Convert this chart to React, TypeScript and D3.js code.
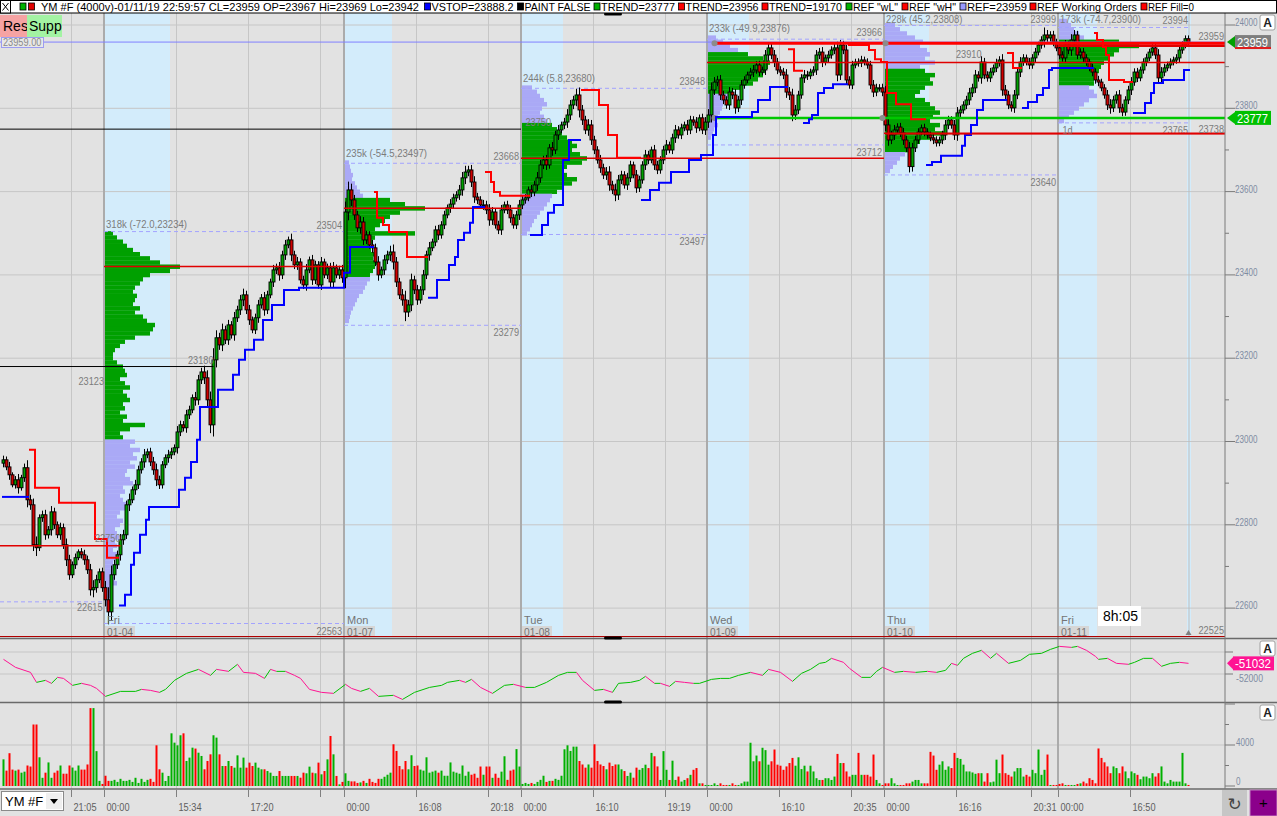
import React, { useEffect } from "react";
import * as d3 from "d3";

// ---------------- DATA ----------------
const openFirst = 22948;
const closes = [
  22956, 22939, 22920, 22896, 22908, 22889, 22913, 22937, 22860, 22848,
  22752, 22745, 22817, 22824, 22776, 22788, 22831, 22800, 22776, 22793,
  22752, 22716, 22680, 22704, 22721, 22735, 22728, 22716, 22692, 22644,
  22649, 22668, 22687, 22649, 22620, 22591, 22680, 22704, 22728, 22764,
  22776, 22848, 22860, 22884, 22896, 22932, 22951, 22968, 22975, 22951,
  22932, 22908, 22896, 22944, 22961, 22968, 22975, 22985, 23023, 23040,
  23033, 23064, 23076, 23105, 23100, 23148, 23167, 23153, 23100, 23040,
  23196, 23249, 23232, 23268, 23244, 23280, 23256, 23297, 23316, 23340,
  23352, 23316, 23292, 23268, 23297, 23328, 23345, 23316, 23352, 23383,
  23412, 23417, 23400, 23448, 23472, 23484, 23448, 23424, 23431, 23388,
  23376, 23412, 23436, 23388, 23424, 23376, 23431, 23400, 23417, 23383,
  23417, 23400, 23412, 23393, 23551, 23604, 23580, 23544, 23513, 23527,
  23484, 23496, 23472, 23465, 23431, 23400, 23412, 23436, 23448, 23455,
  23431, 23383, 23352, 23340, 23311, 23328, 23388, 23364, 23340, 23364,
  23400, 23448, 23465, 23479, 23508, 23496, 23520, 23544, 23561, 23570,
  23585, 23592, 23604, 23633, 23647, 23652, 23623, 23587, 23580, 23568,
  23568, 23556, 23532, 23551, 23520, 23508, 23556, 23568, 23556, 23537,
  23520, 23544, 23568, 23580, 23585, 23604, 23599, 23616, 23633, 23664,
  23676, 23664, 23705, 23700, 23736, 23748, 23760, 23767, 23784, 23808,
  23820, 23832, 23796, 23772, 23748, 23760, 23724, 23700, 23676, 23657,
  23640, 23647, 23616, 23604, 23592, 23628, 23640, 23616, 23633, 23664,
  23640, 23609, 23628, 23664, 23688, 23676, 23700, 23664, 23652, 23676,
  23700, 23712, 23700, 23729, 23748, 23736, 23753, 23760, 23748, 23772,
  23767, 23753, 23777, 23748, 23767, 23784, 23844, 23863, 23868, 23832,
  23820, 23808, 23839, 23832, 23801, 23820, 23856, 23868, 23880, 23887,
  23892, 23904, 23887, 23892, 23928, 23945, 23928, 23911, 23892, 23887,
  23880, 23839, 23832, 23784, 23796, 23832, 23873, 23880, 23878, 23887,
  23892, 23928, 23935, 23911, 23921, 23928, 23940, 23945, 23880, 23952,
  23940, 23868, 23856, 23904, 23911, 23909, 23916, 23911, 23904, 23856,
  23839, 23849, 23849, 23839, 23760, 23724, 23736, 23748, 23755, 23741,
  23724, 23705, 23660, 23705, 23724, 23743, 23753, 23743, 23736, 23729,
  23724, 23717, 23724, 23736, 23760, 23772, 23760, 23736, 23789, 23796,
  23808, 23820, 23837, 23849, 23880, 23873, 23911, 23880, 23873, 23887,
  23897, 23909, 23916, 23844, 23832, 23808, 23801, 23832, 23887, 23911,
  23921, 23911, 23904, 23921, 23935, 23952, 23964, 23976, 23969, 23976,
  23959, 23945, 23928, 23921, 23952, 23940, 23964, 23976, 23928, 23935,
  23921, 23911, 23897, 23887, 23868, 23863, 23849, 23832, 23808, 23801,
  23820, 23832, 23801, 23791, 23820, 23844, 23863, 23887, 23873, 23892,
  23911, 23921, 23935, 23945, 23928, 23873, 23887, 23897, 23904, 23911,
  23916, 23921, 23940, 23952, 23967, 23959,
];

const wicks = [
  10, 8, 12, 6, 9, 14, 7, 10, 18, 12, 15, 20, 8, 10, 12, 9, 14, 10, 8, 12,
  10, 15, 12, 8, 10, 6, 9, 12, 10, 14, 18, 12, 8, 10, 16, 30, 22, 12, 10, 14,
  12, 10, 15, 8, 12, 10, 9, 14, 8, 10, 12, 15, 10, 9, 8, 12, 10, 8, 14, 10,
  9, 12, 10, 8, 14, 12, 10, 15, 18, 20, 28, 18, 12, 15, 10, 12, 9, 14, 10, 12,
  15, 10, 12, 8, 10, 12, 9, 14, 10, 8, 12, 10, 14, 10, 12, 8, 15, 10, 12, 9,
  10, 14, 8, 12, 10, 9, 12, 8, 10, 12, 14, 8, 10, 12, 25, 20, 15, 12, 10, 14,
  12, 10, 9, 12, 10, 14, 8, 12, 10, 15, 18, 12, 10, 14, 22, 12, 15, 10, 12, 9,
  12, 10, 14, 8, 10, 12, 9, 10, 8, 12, 10, 9, 12, 14, 15, 10, 12, 14, 10, 9,
  12, 10, 14, 12, 9, 10, 12, 8, 10, 12, 9, 10, 12, 10, 9, 8, 12, 10, 14, 12,
  10, 12, 9, 14, 10, 12, 8, 10, 14, 12, 10, 15, 18, 12, 10, 14, 12, 10, 9, 12,
  10, 12, 14, 10, 15, 12, 10, 9, 12, 10, 8, 12, 10, 9, 12, 10, 8, 12, 10, 9,
  10, 12, 8, 10, 12, 9, 10, 8, 12, 10, 9, 12, 8, 10, 12, 14, 18, 12, 10, 12,
  10, 9, 12, 10, 14, 10, 12, 9, 8, 10, 12, 9, 10, 8, 12, 14, 10, 12, 10, 9,
  10, 14, 12, 15, 12, 10, 9, 12, 10, 8, 9, 12, 10, 12, 8, 10, 9, 10, 15, 12,
  10, 12, 9, 10, 8, 9, 10, 8, 9, 10, 12, 10, 9, 10, 15, 14, 10, 12, 9, 10,
  12, 10, 14, 12, 10, 9, 8, 10, 9, 8, 10, 9, 8, 10, 12, 10, 9, 12, 14, 10,
  9, 10, 12, 10, 12, 9, 14, 10, 9, 10, 8, 10, 9, 14, 12, 10, 9, 12, 10, 12,
  9, 8, 10, 9, 10, 8, 9, 18, 12, 9, 10, 8, 10, 9, 12, 10, 14, 12, 10, 9,
  10, 9, 8, 10, 9, 10, 8, 9, 12, 14, 10, 9, 12, 10, 9, 10, 12, 9, 10, 8,
  9, 10, 8, 9, 10, 14, 12, 10, 8, 9, 8, 9, 10, 9, 8, 8,
];

const volumes = [
  2600, 1500, 3200, 1600, 1500, 1600, 1300, 1400, 2000, 1900,
  6000, 6000, 2800, 800, 1300, 2300, 800, 1300, 1500, 2000,
  1200, 1200, 2000, 1800, 1500, 2000, 1600, 1600, 2100, 7600,
  7600, 3400, 500, 200,
  1000, 500, 500, 600, 400, 700, 500, 500, 600, 400, 800, 300, 700, 400, 600, 700, 400,
  3970, 1630, 1300, 490, 980, 5140, 4230,
  3970, 4950, 5140, 2440, 2770, 3740, 3650, 3250, 2930, 1630,
  2440, 3090, 4950, 4720, 3090, 1950, 1950, 2440, 1950, 1790,
  2990, 1790, 2770, 1790, 2280, 1950, 2280, 1790, 1630, 1630,
  1460, 1300, 980, 980, 1460, 980, 980, 980, 980, 980,
  980, 810, 1300, 1240, 1890, 1300, 1240, 2280, 1140, 1460,
  2600, 4880, 3090, 980, 160, 400, 1240,
  500, 450, 450, 300, 350, 500, 300, 700, 400, 300, 700, 700, 900, 1100, 1300,
  4070, 3420, 1950, 1630, 2440, 1630, 3000, 1950,
  2000, 1600, 1500, 2800, 1300, 1400, 1500, 1300, 1500, 1000,
  1000, 2300, 1400, 1300, 1200, 2000, 1000, 1400, 1100, 1200,
  800, 1900, 1100, 1900, 1900, 800, 1200, 800, 1400, 2900,
  600, 1500, 1600, 3600, 1900,
  200, 300, 200, 300, 200, 400, 600, 1000, 400, 500, 500, 700, 600, 1000,
  3580, 3970, 3420, 3840, 3840, 2440, 2100, 1790, 2100, 1790,
  4070, 2440, 2100, 1950, 1630, 2280, 1950, 2100, 2100, 1630,
  1460, 980, 1300, 810, 1790,
  1580, 1750, 2080, 1750, 3230, 2900, 1910, 590, 3400, 1580,
  590, 2470, 590, 920, 430, 590, 760, 1090, 1580, 1750,
  260, 260, 100, 100, 100, 260, 100, 260, 100, 100,
  100, 260, 100, 100, 260, 430, 430, 4220, 2410, 2970,
  2410, 3730, 3500, 2080, 2410, 3560, 2080, 1980, 1580, 1910,
  2240, 2740, 1980, 2800, 1650, 1980, 1420, 1980, 1420, 760,
  590, 590, 760, 760, 590, 920, 3130, 2240, 2240, 1420,
  920, 1090, 1090, 3230, 1090, 1090, 1090, 920, 3070, 590,
  260, 100, 260, 260, 760, 260, 100, 100, 100, 260,
  260, 430, 590, 590, 260, 260, 260, 3330, 2970, 1580,
  2080, 2410, 1580, 1910, 1750, 3230, 2740, 2640, 2080, 1420,
  1420, 1320, 1190, 1250, 1250, 430, 1250, 360, 430, 2570,
  1250, 3070, 1250, 1090, 920, 1420, 1750, 1750, 920, 1090,
  920, 1580, 1250, 3560, 1090, 1580, 3070, 100, 100, 100,
  200, 260, 100, 100, 100, 100, 200, 260, 430, 260,
  760, 590, 260, 3660, 2740, 2310, 1910, 1250, 1910, 1750,
  1250, 1910, 1420, 760, 1420, 1250, 1090, 660, 920, 920,
  760, 1250, 920, 1250, 1910, 430, 260, 590, 430, 430,
  430, 3230, 260, 100,
];

// cumulative delta (indicator pane)
const deltaBar = [
  0, 4, 9, 11, 14, 16, 18, 20, 23, 26,
  29, 31, 34, 39, 44, 46, 49, 52, 54, 57,
  61, 65, 69, 71, 75, 78, 80, 84, 87, 89,
  91, 94, 97, 99, 102, 106, 110, 114, 116, 119,
  122, 125, 130, 133, 137, 142, 146, 148, 152, 154,
  156, 159, 163, 167, 170, 174, 177, 181, 185, 188,
  191, 193, 197, 200, 203, 205, 209, 212, 214, 217,
  219, 222, 224, 227, 230, 232, 236, 239, 242, 245,
  249, 253, 255, 259, 263, 266, 269, 272, 274, 276,
  280, 282, 286, 289, 291, 293, 297, 300, 304, 308,
  311, 314, 316, 318, 320, 323, 326, 329, 331, 335,
  339, 342, 346, 349, 352, 356, 358, 361, 364, 365,
  368, 371, 375, 377, 380, 383, 386, 389, 392, 395,
];
const deltaVal = [
  -50668, -51396, -51851, -52761, -52579, -52850, -52306, -52400, -53034, -52850,
  -53034, -53307, -54035, -53580, -53580, -53400, -53490, -53670, -53400, -52579,
  -51942, -51580, -52124, -51580, -51760, -51120, -51851, -51942, -52400, -51580,
  -51760, -51760, -52124, -52400, -53400, -53670, -53760, -52940, -53307, -53580,
  -53307, -54035, -53940, -54310, -53670, -53220, -53034, -52760, -52579, -52760,
  -52490, -53220, -53760, -53034, -52940, -53220, -53220, -52760, -52124, -51851,
  -51851, -52579, -53490, -53400, -53670, -52850, -52760, -52579, -52215, -52850,
  -52850, -53124, -52670, -52760, -52850, -52850, -52490, -52400, -52400, -52124,
  -51851, -52124, -51580, -51851, -52670, -51942, -51580, -51032, -50940, -50577,
  -50940, -51487, -52306, -52306, -51760, -51396, -51851, -51760, -51851, -51760,
  -51851, -51670, -51032, -51214, -50577, -50120, -49850, -50577, -50120, -51032,
  -50760, -50210, -50120, -49760, -49490, -49580, -49490, -49850, -50400, -50668,
  -50577, -51032, -51120, -50940, -50577, -50577, -51300, -51032, -50940, -51032,
];

// VSTOP / TREND step line: start bar, level, side (b = support/blue, r = resistance/red)
const stopStart = [
  0, 9, 11, 19, 31, 35, 39, 41, 43, 44, 46, 48, 49, 59, 61, 63, 65, 66, 72, 77,
  79, 81, 84, 87, 90, 94, 99, 114, 116, 124, 125, 127, 129, 135, 142, 145, 149, 151, 152, 154,
  156, 157, 161, 163, 164, 166, 176, 180, 182, 184, 187, 189, 193, 199, 202, 205, 213, 216, 219, 223,
  229, 233, 237, 238, 250, 252, 256, 262, 264, 267, 269, 270, 272, 274, 277, 282, 289, 291, 293, 295,
  298, 303, 308, 310, 313, 320, 321, 323, 325, 327, 335, 337, 340, 342, 345, 347, 349, 350, 364, 365,
  367, 368, 369, 374, 377, 381, 383, 384, 387, 394,
];
const stopPrice = [
  22867, 22980, 22889, 22853, 22766, 22721, 22606, 22632, 22704, 22733, 22776, 22812, 22843, 22884, 22913, 22951, 23004, 23083, 23124, 23160,
  23196, 23220, 23244, 23292, 23328, 23364, 23369, 23405, 23467, 23599, 23537, 23520, 23503, 23443, 23345, 23388, 23424, 23443, 23484, 23501,
  23525, 23563, 23647, 23623, 23599, 23590, 23496, 23520, 23549, 23568, 23676, 23724, 23844, 23808, 23736, 23681, 23580, 23604, 23621, 23647,
  23676, 23688, 23736, 23779, 23791, 23820, 23851, 23942, 23890, 23765, 23774, 23784, 23837, 23849, 23858, 23952, 23940, 23918, 23911, 23837,
  23810, 23774, 23664, 23671, 23686, 23710, 23736, 23760, 23796, 23820, 23933, 23897, 23801, 23815, 23832, 23849, 23892, 23897, 23981, 23964,
  23947, 23928, 23868, 23863, 23789, 23813, 23837, 23861, 23868, 23892,
];
const stopSides = [
  "b", "rrrrr", "bbbbbbbbbbbbbbbbbbbbbbb", "rrrrr", "bbbbbbbb", "rrrr", "bbbbbb", "rrrr",
  "bbbbbbbbbbb", "rr", "bbbbbb", "rrrrrrr", "bbbbbbbb", "rr", "bbbbbb", "rrrrrr", "bbbbbb",
].join("").split("");

// sessions
const sessionStart = [34, 114, 173, 235, 294, 352];
const sessionRth = [56, 130, 187, 249, 309, 365];
const sessionEnd = [114, 173, 235, 294, 352, 395];
const sessionDay = ["Fri", "Mon", "Tue", "Wed", "Thu", "Fri"];
const sessionDate = ["01-04", "01-07", "01-08", "01-09", "01-10", "01-11"];
const sessionHigh = [23504, 23668, 23848, 23966, 23999, 23994];
const sessionLow = [22563, 23279, 23497, 23712, 23640, 23765];

// volume profiles (10-point rows from the top price down)
const profile1 = [
  8, 12, 18, 22, 28, 35, 45, 55, 75, 65, 45, 38, 35, 30, 28, 32, 30, 28, 35, 30,
  38, 42, 50, 48, 45, 30, 20, 15, 10, 8, 8, 12, 18, 20, 22, 15, 20, 25, 18, 22,
  25, 18, 20, 15, 22, 18, 40, 25, 15, 18, 30, 25, 35, 28, 32, 25, 30, 22, 20, 25,
  28, 18, 20, 15, 18, 22, 20, 15, 12, 18, 15, 10, 12, 14, 10, 12, 8, 12, 10, 8,
  12, 10, 8, 10, 12, 8, 6, 5, 4, 3,
];
const profile2 = [
  4, 5, 6, 8, 7, 10, 12, 15, 18, 45, 60, 80, 55, 45, 40, 35, 30, 70, 30, 28,
  25, 26, 30, 28, 32, 30, 28, 25, 25, 22, 20, 18, 14, 12, 10, 8, 6, 5, 4,
];
const profile3 = [
  10, 15, 18, 22, 25, 20, 18, 22, 25, 30, 35, 40, 45, 50, 55, 50, 58, 65, 60, 45,
  40, 45, 55, 50, 40, 35, 30, 28, 25, 22, 18, 15, 12, 10, 8, 5,
];
const profile4 = [
  8, 15, 22, 30, 40, 55, 62, 60, 58, 55, 50, 45, 35, 25, 20, 18, 15, 14, 12, 10,
  8, 10, 6, 5, 3,
];
const profile5 = [
  10, 15, 22, 30, 38, 35, 42, 45, 40, 50, 35, 40, 50, 45, 48, 40, 35, 30, 40, 45,
  50, 55, 48, 45, 55, 50, 60, 45, 35, 30, 25, 20, 15, 12, 8, 5,
];
const profile6 = [
  8, 12, 15, 20, 25, 60, 80, 60, 55, 50, 45, 42, 40, 38, 35, 35, 30, 35, 38, 30,
  25, 20, 15, 10, 5,
];
const profTop = [23500, 23670, 23850, 23970, 24000, 24010];
const profVaHigh = [23500, 23580, 23760, 23930, 23890, 23960];
const profVaLow = [23010, 23400, 23600, 23840, 23700, 23860];
const profLabel = [
  "318k (-72.0,23234)",
  "235k (-54.5,23497)",
  "244k (5.8,23680)",
  "233k (-49.9,23876)",
  "228k (45.2,23808)",
  "173k (-74.7,23900)",
];
const pocEndBar = [114, 173, 294, 999, 999, 999];

// time axis
const timeTickBar = [23, 34, 58, 82, 106, 114, 138, 162, 173, 197, 221, 235, 259, 283, 294, 318, 343, 352, 376];
const timeTickLabel = ["21:05", "00:00", "15:34", "17:20", "", "00:00", "16:08", "20:18", "00:00", "16:10", "19:19", "00:00", "16:10", "20:35", "00:00", "16:16", "20:31", "00:00", "16:50"];

const priceTicks = [22600, 22700, 22800, 22900, 23000, 23100, 23200, 23300, 23400, 23500, 23600, 23700, 23800, 23900, 24000];

// ---------------- LAYOUT ----------------
const W = 1277;
const H = 816;
const AX = 1225;
const MAIN_TOP = 13;
const MAIN_BOT = 637;
const IND_TOP = 639;
const IND_BOT = 702;
const VOL_TOP = 703;
const VOL_BOT = 789;
const FONT = "Liberation Sans, Arial, sans-serif";
const GRID = "#c6c6c6";
const LBL = "#7c7c7c";

// narrow small label (price tags on the chart)
function Lbl(props: { x: number; y: number; t: string | number; anchor?: string; fill?: string; size?: number; per?: number }) {
  const t = String(props.t);
  return (
    <text
      x={props.x}
      y={props.y}
      fontSize={props.size ?? 11}
      fill={props.fill ?? LBL}
      textAnchor={props.anchor ?? "start"}
      textLength={t.length * (props.per ?? 5.1)}
      lengthAdjust="spacingAndGlyphs"
    >
      {t}
    </text>
  );
}

export default function App() {
  useEffect(() => {
    document.body.style.margin = "0";
    document.body.style.overflow = "hidden";
  }, []);

  const x = d3.scaleLinear().domain([0, 395]).range([3.5, 1188.5]);
  const y = d3.scaleLinear().domain([22600, 24000]).range([608.1, 25]);
  const yd = d3.scaleLinear().domain([-52000, -50000]).range([674, 652]);
  const yv = d3.scaleLinear().domain([0, 4000]).range([786, 745]);
  const wScale = d3.scaleLinear().domain([0, 100]).range([0, 100]);
  const edge = (b: number) => Math.min(AX, x(b) - 1.5);

  const bars = closes.map((c, i) => {
    const o = i === 0 ? openFirst : closes[i - 1];
    const w = wicks[i] ?? 10;
    return { i, o, c, h: Math.max(o, c) + w, l: Math.min(o, c) - w, up: c >= o };
  });

  const profiles = [profile1, profile2, profile3, profile4, profile5, profile6];

  // step line runs
  const segs = stopStart.map((s, i) => ({
    s,
    e: i < stopStart.length - 1 ? stopStart[i + 1] : 395.5,
    p: stopPrice[i],
    side: stopSides[i] || "b",
  }));
  const runs: { side: string; d: string }[] = [];
  segs.forEach((sg, i) => {
    const x0 = x(sg.s) - 1.5;
    const x1 = sg.e >= 395.5 ? x(395) + 1.5 : x(sg.e) - 1.5;
    const yy = y(sg.p);
    if (i > 0 && segs[i - 1].side === sg.side) {
      runs[runs.length - 1].d += ` V${yy} H${x1}`;
    } else {
      runs.push({ side: sg.side, d: `M${x0},${yy} H${x1}` });
    }
  });

  const legend = [
    { c: "#0000ff", t: "VSTOP=23888.2", x: 424.5, w: 82 },
    { c: "#000000", t: "PAINT FALSE", x: 517.5, w: 66 },
    { c: "#00b000", t: "TREND=23777", x: 594, w: 74 },
    { c: "#ff0000", t: "TREND=23956", x: 678.6, w: 73 },
    { c: "#ff0000", t: "TREND=19170", x: 762, w: 73 },
    { c: "#00b000", t: 'REF "wL"', x: 846, w: 45 },
    { c: "#ff0000", t: 'REF "wH"', x: 902, w: 47 },
    { c: "#9999ff", t: "REF=23959", x: 960, w: 60 },
    { c: "#ff0000", t: "REF Working Orders", x: 1030, w: 100 },
    { c: "#ff0000", t: "REF Fill=0", x: 1141, w: 46 },
  ];

  const sessX = (b: number) => x(b) - 1.5;

  return (
    <svg width={W} height={H} style={{ position: "absolute", left: 0, top: 0, display: "block" }} fontFamily={FONT}>
      <defs>
        <clipPath id="mainClip">
          <rect x={0} y={MAIN_TOP} width={AX} height={MAIN_BOT - MAIN_TOP} />
        </clipPath>
        <clipPath id="indClip">
          <rect x={0} y={IND_TOP} width={AX} height={IND_BOT - IND_TOP} />
        </clipPath>
        <clipPath id="volClip">
          <rect x={0} y={VOL_TOP} width={AX} height={VOL_BOT - VOL_TOP} />
        </clipPath>
      </defs>
      <rect x={0} y={0} width={W} height={H} fill="#e2e2e2" />

      {/* session highlight (overnight) */}
      <g clipPath="url(#mainClip)">
        {sessionStart.map((s, i) => (
          <rect key={i} x={sessX(s)} y={MAIN_TOP} width={sessX(sessionRth[i]) - sessX(s)} height={MAIN_BOT - MAIN_TOP} fill="#d3ecfb" />
        ))}
        <rect x={x(395) - 1.5} y={MAIN_TOP} width={4} height={MAIN_BOT - MAIN_TOP} fill="#d3ecfb" />
        {priceTicks.filter((p) => p % 200 === 0).map((p) => (
          <line key={p} x1={0} x2={AX} y1={y(p)} y2={y(p)} stroke={GRID} />
        ))}
      </g>

      {/* vertical grid across panes */}
      {timeTickBar.map((b, i) =>
        sessionStart.includes(b) ? null : (
          <line key={i} x1={x(b) - 1} x2={x(b) - 1} y1={MAIN_TOP} y2={VOL_BOT} stroke={GRID} />
        )
      )}
      <line x1={0} x2={AX} y1={yd(-50000)} y2={yd(-50000)} stroke={GRID} />
      <line x1={0} x2={AX} y1={yd(-52000)} y2={yd(-52000)} stroke={GRID} />
      <line x1={0} x2={AX} y1={yv(4000)} y2={yv(4000)} stroke={GRID} />
      {sessionStart.map((s, i) => (
        <line key={i} x1={sessX(s)} x2={sessX(s)} y1={MAIN_TOP} y2={VOL_BOT} stroke="#ababab" strokeWidth={2} />
      ))}
      <line x1={x(395) + 0.5} x2={x(395) + 0.5} y1={MAIN_TOP} y2={MAIN_BOT} stroke="#bdbdbd" strokeWidth={1} />

      <g clipPath="url(#mainClip)">
        {/* volume profiles */}
        {profiles.map((prof, pi) => {
          const sx = sessX(sessionStart[pi]) + 1;
          return (
            <g key={pi}>
              {prof.map((v, k) => {
                const p = profTop[pi] - 10 * k;
                const inVa = p <= profVaHigh[pi] && p >= profVaLow[pi];
                const y0 = y(p + 5);
                const y1 = y(p - 5);
                return (
                  <rect key={k} x={sx} y={y0} width={wScale(v)} height={y1 - y0 + 0.3} fill={inVa ? "#00a000" : "#aaa9f6"} />
                );
              })}
              <Lbl x={sx + 1} y={Math.max(23, y(profTop[pi] + 5) - 3)} t={profLabel[pi]} per={4.5} />
            </g>
          );
        })}

        {/* session high / low dashed lines */}
        {sessionStart.map((s, i) => {
          const x0 = sessX(s);
          const x1 = i === sessionStart.length - 1 ? x(395) + 1.5 : sessX(sessionEnd[i]);
          return (
            <g key={i}>
              <line x1={x0} x2={x1} y1={y(sessionHigh[i])} y2={y(sessionHigh[i])} stroke="#a3a3ff" strokeDasharray="4,3" />
              <line x1={x0} x2={x1} y1={y(sessionLow[i])} y2={y(sessionLow[i])} stroke="#a3a3ff" strokeDasharray="4,3" />
              <Lbl x={x1 - 2} y={Math.max(23, y(sessionHigh[i]) - 3)} t={sessionHigh[i]} anchor="end" />
              <Lbl x={x1 - 2} y={y(sessionLow[i]) + 11} t={sessionLow[i]} anchor="end" />
            </g>
          );
        })}
        <line x1={0} x2={sessX(34)} y1={y(22615)} y2={y(22615)} stroke="#a3a3ff" strokeDasharray="4,3" />

        {/* candles */}
        {bars.map((b) => {
          const cx = x(b.i);
          const top = y(Math.max(b.o, b.c));
          const bot = y(Math.min(b.o, b.c));
          return (
            <g key={b.i}>
              <line x1={cx} x2={cx} y1={y(b.h)} y2={y(b.l)} stroke="#000" strokeWidth={1} />
              <rect x={cx - 1.5} y={top} width={3} height={Math.max(1, bot - top)} fill={b.up ? "#00a000" : "#d00000"} stroke="#000" strokeWidth={0.9} />
            </g>
          );
        })}

        {/* reference lines */}
        <line x1={0} x2={AX} y1={y(23959)} y2={y(23959)} stroke="#8080ff" strokeWidth={1} />
        <line x1={0} x2={sessX(173)} y1={y(23750)} y2={y(23750)} stroke="#000" strokeWidth={1} />
        <line x1={0} x2={x(70)} y1={y(23180)} y2={y(23180)} stroke="#000" strokeWidth={1} />
        <line x1={0} x2={x(39)} y1={y(22750)} y2={y(22750)} stroke="#e00000" strokeWidth={1.5} />
        {profiles.map((prof, pi) => {
          const k = prof.indexOf(Math.max(...prof));
          const p = profTop[pi] - 10 * k;
          return (
            <line key={pi} x1={sessX(sessionStart[pi])} x2={edge(pocEndBar[pi])} y1={y(p)} y2={y(p)} stroke="#e00000" strokeWidth={pi === 5 ? 2.5 : 1.5} />
          );
        })}
        <line x1={x(237)} x2={AX} y1={y(23956)} y2={y(23956)} stroke="#ff0000" strokeWidth={3} />
        <line x1={x(237)} x2={AX} y1={y(23777)} y2={y(23777)} stroke="#00c800" strokeWidth={2.5} />
        {[
          [237, 23956],
          [294, 23956],
          [237, 23777],
          [293, 23777],
        ].map(([b, p], i) => (
          <circle key={i} cx={x(b)} cy={y(p)} r={3} fill="#8c8c8c" />
        ))}

        {/* stop lines */}
        {runs.map((r, i) => (
          <path key={i} d={r.d} fill="none" stroke={r.side === "b" ? "#0000ff" : "#ff0000"} strokeWidth={2} />
        ))}

        {/* misc level labels */}
        <Lbl x={x(25)} y={y(23123) - 5} t="23123" />
        <Lbl x={x(70)} y={y(23180) - 3} t="23180" anchor="end" />
        <Lbl x={x(39)} y={y(22750) - 4} t="22750" anchor="end" />
        <Lbl x={x(33)} y={y(22615) + 9} t="22615" anchor="end" />
        <Lbl x={x(174)} y={y(23750) - 3} t="23750" />
        <Lbl x={x(326)} y={y(23910) - 4} t="23910" anchor="end" />
        <Lbl x={x(352) + 3} y={y(23777) + 16} t="1d" />
        <Lbl x={AX - 1} y={y(23959) - 2} t="23959" anchor="end" />
        <Lbl x={AX - 1} y={y(23738) - 1} t="23738" anchor="end" />
        <line x1={x(294)} x2={AX} y1={y(23738)} y2={y(23738)} stroke="#e00000" strokeWidth={1} />

        {/* day labels */}
        {sessionStart.map((s, i) => (
          <g key={i}>
            <text x={sessX(s) + 3} y={624} fontSize={11} fill="#747474">{sessionDay[i]}</text>
            <rect x={sessX(s) + 1} y={626} width={30} height={11} fill="#d6d6d6" />
            <Lbl x={sessX(s) + 3} y={636} t={sessionDate[i]} fill="#747474" per={5.2} />
          </g>
        ))}
      </g>

      {/* pane separators */}
      <line x1={0} x2={AX} y1={636.5} y2={636.5} stroke="#b00000" strokeWidth={1} />
      <line x1={0} x2={W} y1={638.5} y2={638.5} stroke="#6a6a6a" strokeWidth={1.5} />
      <line x1={0} x2={W} y1={702.5} y2={702.5} stroke="#6a6a6a" strokeWidth={1.5} />
      <line x1={0} x2={W} y1={789} y2={789} stroke="#6a6a6a" strokeWidth={1.5} />
      {[14, 638, 702].map((yy, i) => (
        <rect key={i} x={604} y={yy - 1.5} width={18} height={3} rx={1.5} fill="#000" />
      ))}

      {/* indicator pane: cumulative delta */}
      <g clipPath="url(#indClip)">
        {deltaVal.slice(1).map((v, i) => {
          const pv = deltaVal[i];
          return (
            <line
              key={i}
              x1={x(deltaBar[i])}
              x2={x(deltaBar[i + 1])}
              y1={yd(pv)}
              y2={yd(v)}
              stroke={v >= pv ? "#00c000" : "#ff1493"}
              strokeWidth={1}
            />
          );
        })}
      </g>

      {/* volume pane */}
      <g clipPath="url(#volClip)">
        {volumes.map((v, i) => (
          <rect key={i} x={x(i) - 1} y={yv(v)} width={2} height={yv(0) - yv(v)} fill={bars[i] && bars[i].up ? "#00b000" : "#ff0000"} />
        ))}
      </g>

      {/* right axis */}
      <line x1={AX} x2={AX} y1={MAIN_TOP} y2={VOL_BOT} stroke="#7a7a7a" />
      {priceTicks.map((p) => (
        <g key={p}>
          <line x1={AX} x2={AX + (p % 200 === 0 ? 10 : 4)} y1={y(p)} y2={y(p)} stroke="#7a7a7a" />
          {p % 200 === 0 && <Lbl x={AX + 10} y={y(p) + 1} t={p} fill="#7f8ca2" size={11} per={4.5} />}
        </g>
      ))}
      {[-50000, -52000].map((v) => (
        <line key={v} x1={AX} x2={AX + 8} y1={yd(v)} y2={yd(v)} stroke="#7a7a7a" />
      ))}
      <Lbl x={AX + 11} y={yd(-52000) + 8} t="-52000" fill="#7f8ca2" size={11} per={4.5} />
      {[0, 2000, 4000, 6000, 8000].map((v) => (
        <line key={v} x1={AX} x2={AX + (v % 4000 === 0 ? 10 : 4)} y1={yv(v)} y2={yv(v)} stroke="#7a7a7a" />
      ))}
      <Lbl x={AX + 11} y={yv(4000) + 1} t="4000" fill="#7f8ca2" size={11} per={4.5} />
      <Lbl x={AX + 11} y={yv(0) - 1} t="0" fill="#7f8ca2" size={11} per={4.5} />

      {/* price flags */}
      <path d={`M${AX + 2},${y(23959)} L${AX + 10},${y(23959) - 6} L${AX + 10},${y(23959) + 6} Z`} fill="#00a000" />
      <rect x={AX + 10} y={y(23959) - 7} width={36} height={14} fill="#7e7e7e" />
      <line x1={AX + 10} x2={AX + 46} y1={y(23959) + 6} y2={y(23959) + 6} stroke="#ff0000" strokeWidth={1.5} />
      <Lbl x={AX + 12} y={y(23959) + 5} t="23959" fill="#fff" size={12} per={6.2} />
      <path d={`M${AX + 2},${y(23777)} L${AX + 10},${y(23777) - 6} L${AX + 10},${y(23777) + 6} Z`} fill="#00c000" />
      <rect x={AX + 10} y={y(23777) - 7} width={36} height={14} fill="#00c000" />
      <Lbl x={AX + 12} y={y(23777) + 5} t="23777" fill="#fff" size={12} per={6.2} />
      <path d={`M${AX + 2},${yd(-51032)} L${AX + 8},${yd(-51032) - 6} L${AX + 8},${yd(-51032) + 6} Z`} fill="#ff1493" />
      <rect x={AX + 8} y={yd(-51032) - 7} width={41} height={14} fill="#ff1493" />
      <Lbl x={AX + 10} y={yd(-51032) + 5} t="-51032" fill="#fff" size={12} per={6} />
      <Lbl x={AX - 1} y={634} t="22525" anchor="end" />
      <path d={`M${x(395)},630 L${x(395) + 3},635 L${x(395) - 3},635 Z`} fill="#808080" />

      {/* A buttons */}
      {[15, 641, 705].map((yy, i) => (
        <g key={i}>
          <rect x={1260} y={yy} width={15} height={15} rx={2} fill="#fff" stroke="#a0a0a0" />
          <text x={1267.5} y={yy + 12} fontSize={12} fontWeight="bold" textAnchor="middle" fill="#222">A</text>
        </g>
      ))}

      {/* 8h:05 */}
      <rect x={1098} y={606} width={43} height={20} fill="#fff" />
      <text x={1103} y={621} fontSize={14} fill="#000">8h:05</text>

      {/* time axis */}
      {timeTickBar.map((b, i) => (
        <g key={i}>
          <line x1={x(b) - 1} x2={x(b) - 1} y1={790} y2={797} stroke="#808080" />
          {timeTickLabel[i] && <Lbl x={x(b) + 1} y={811} t={timeTickLabel[i]} fill="#5e5e5e" size={11} per={4.6} />}
        </g>
      ))}

      {/* bottom-left symbol box */}
      <rect x={1.5} y={791.5} width={62} height={19} fill="#fff" stroke="#8a8a8a" />
      <text x={5} y={806} fontSize={13} fill="#000">YM #F</text>
      <rect x={46} y={793} width={16} height={16} fill="#efefef" />
      <path d="M50,799 L58,799 L54,804 Z" fill="#000" />

      {/* bottom-right buttons */}
      <rect x={1222} y={790} width={25} height={26} fill="#c6c6c6" />
      <text x={1234.5} y={810} fontSize={17} textAnchor="middle" fill="#444" fontFamily="DejaVu Sans">↻</text>
      <rect x={1250} y={790} width={27} height={26} fill="#8b008b" stroke="#c080c0" />
      <text x={1263.5} y={808} fontSize={15} textAnchor="middle" fill="#000">+</text>

      {/* Res / Supp buttons */}
      <rect x={0} y={15} width={27} height={22} fill="#f5a3a3" />
      <text x={3} y={31} fontSize={14} fill="#000">Res</text>
      <rect x={27} y={15} width={35} height={22} fill="#a3f3a3" />
      <text x={29} y={31} fontSize={14} fill="#000">Supp</text>
      <rect x={1.5} y={37.5} width={42} height={10} fill="#e8e8e8" stroke="#9c9cf0" />
      <Lbl x={3} y={46} t="23959.00" fill="#8a8a8a" size={10} per={4.8} />

      {/* header */}
      <rect x={0.5} y={0.5} width={W - 1} height={12.5} fill="#fff" stroke="#000" />
      <rect x={0.5} y={0.5} width={10} height={12.5} fill="#fff" stroke="#000" />
      <path d="M2.5,3 L8.5,10.5 M8.5,3 L2.5,10.5" stroke="#000" />
      <rect x={20} y={3} width={6} height={7} fill="#00b000" stroke="#000" strokeWidth={0.8} />
      <rect x={28.5} y={3} width={6} height={7} fill="#e00000" stroke="#000" strokeWidth={0.8} />
      <text x={41} y={11} fontSize={11} fill="#000" textLength={378} lengthAdjust="spacingAndGlyphs">
        YM #F (4000v)-01/11/19 22:59:57 CL=23959 OP=23967 Hi=23969 Lo=23942
      </text>
      {legend.map((l, i) => (
        <g key={i}>
          <rect x={l.x} y={3} width={6} height={7} fill={l.c} stroke="#000" strokeWidth={0.8} />
          <text x={l.x + 7} y={11} fontSize={11.5} fill="#000" textLength={l.w} lengthAdjust="spacingAndGlyphs">
            {l.t}
          </text>
        </g>
      ))}
    </svg>
  );
}
